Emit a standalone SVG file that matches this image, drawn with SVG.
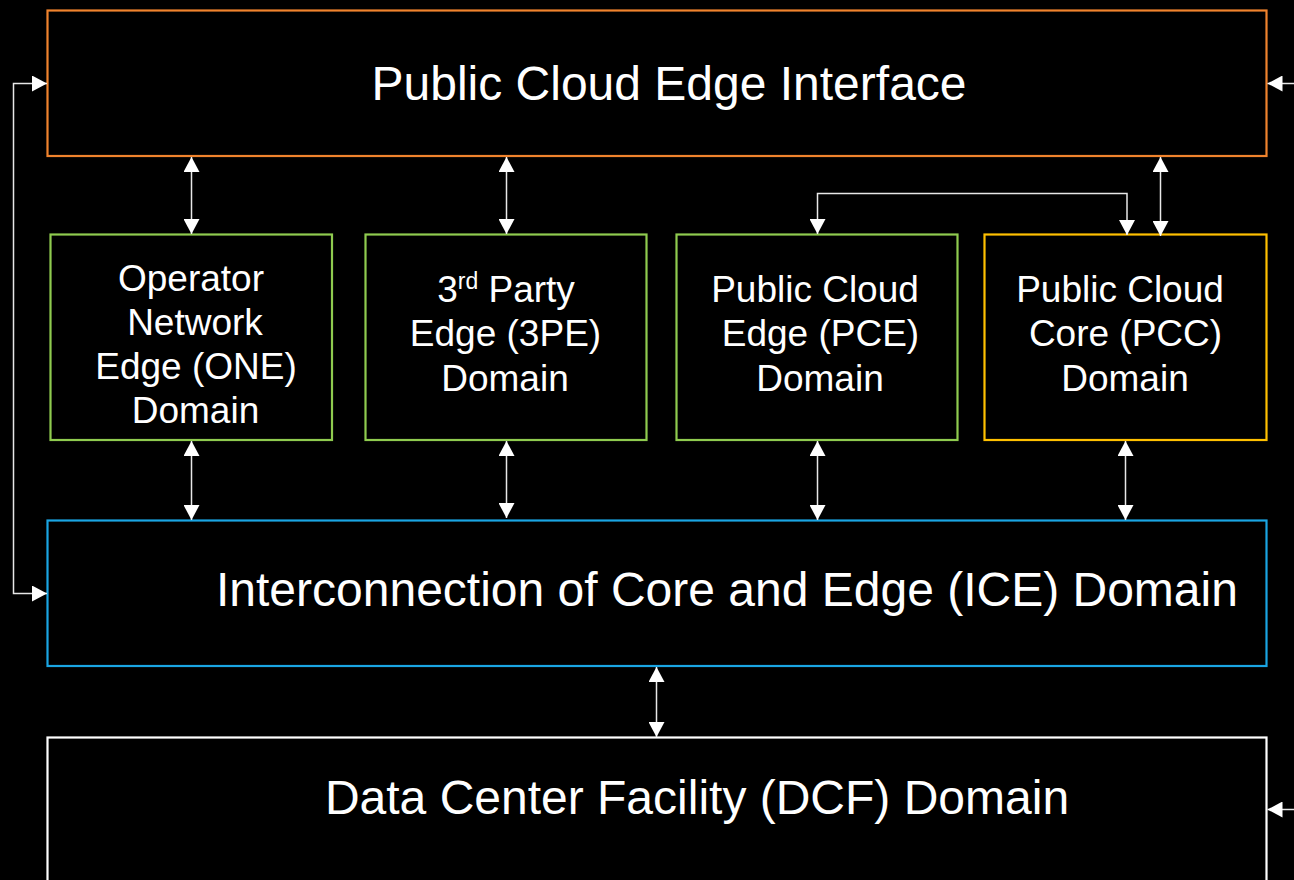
<svg xmlns="http://www.w3.org/2000/svg" width="1294" height="880" viewBox="0 0 1294 880">
<defs>
<style>
.bg{fill:#000}
.box{fill:#000;stroke-width:2.2}
.big{font-family:"Liberation Sans",Arial,sans-serif;font-size:48px;fill:#fff}
.sm{font-family:"Liberation Sans",Arial,sans-serif;font-size:37px;fill:#fff;text-anchor:middle}
.c{fill:none;stroke:#e8e8e8;stroke-width:1.5}
</style>
<marker id="ah" markerUnits="userSpaceOnUse" markerWidth="16" markerHeight="16" viewBox="0 0 16 16" refX="15" refY="8" orient="auto-start-reverse">
<path d="M0,0 L15,8 L0,16 Z" fill="#fff"/>
</marker>
</defs>
<rect class="bg" x="0" y="0" width="1294" height="880"/>

<g id="pcei">
<rect class="box" x="47.5" y="10.5" width="1219" height="145.5" stroke="#F0832D"/>
<text class="big" x="669" y="100" text-anchor="middle">Public Cloud Edge Interface</text>
</g>

<g id="one">
<rect class="box" x="50.5" y="234.5" width="281.5" height="205.5" stroke="#8FCB4F"/>
<text class="sm"><tspan x="191" y="291">Operator</tspan><tspan x="195" y="335">Network</tspan><tspan x="196" y="379">Edge (ONE)</tspan><tspan x="195.5" y="423">Domain</tspan></text>
</g>

<g id="tpe">
<rect class="box" x="365.5" y="234.5" width="281" height="205.5" stroke="#8FCB4F"/>
<text class="sm"><tspan x="506" y="302">3<tspan font-size="23" dy="-13">rd</tspan><tspan dy="13"> Party</tspan></tspan><tspan x="505.5" y="346">Edge (3PE)</tspan><tspan x="505" y="391">Domain</tspan></text>
</g>

<g id="pce">
<rect class="box" x="676.5" y="234.5" width="281" height="205.5" stroke="#8FCB4F"/>
<text class="sm"><tspan x="815" y="302">Public Cloud</tspan><tspan x="820.5" y="346">Edge (PCE)</tspan><tspan x="820" y="391">Domain</tspan></text>
</g>

<g id="pcc">
<rect class="box" x="984.5" y="234.5" width="282" height="205.5" stroke="#FFC000"/>
<text class="sm"><tspan x="1120" y="302">Public Cloud</tspan><tspan x="1125.5" y="346">Core (PCC)</tspan><tspan x="1125" y="391">Domain</tspan></text>
</g>

<g id="ice">
<rect class="box" x="47.5" y="520.5" width="1219" height="145.5" stroke="#1AA5E3"/>
<text class="big" x="216" y="606">Interconnection of Core and Edge (ICE) Domain</text>
</g>

<g id="dcf">
<rect class="box" x="47.5" y="737.5" width="1219" height="160" stroke="#fff"/>
<text class="big" x="697" y="814" text-anchor="middle">Data Center Facility (DCF) Domain</text>
</g>

<g id="connectors">
<path class="c" d="M47,83.5 H13.5 V593.5 H47" marker-start="url(#ah)" marker-end="url(#ah)"/>
<path class="c" d="M1294,83.5 H1267.5" marker-end="url(#ah)"/>
<path class="c" d="M1294,809.5 H1267.5" marker-end="url(#ah)"/>
<path class="c" d="M191.5,157 V234" marker-start="url(#ah)" marker-end="url(#ah)"/>
<path class="c" d="M506.5,157 V234" marker-start="url(#ah)" marker-end="url(#ah)"/>
<path class="c" d="M1160.5,157 V236" marker-start="url(#ah)" marker-end="url(#ah)"/>
<path class="c" d="M817.5,234 V193.5 H1127 V235" marker-start="url(#ah)" marker-end="url(#ah)"/>
<path class="c" d="M191.5,441 V520" marker-start="url(#ah)" marker-end="url(#ah)"/>
<path class="c" d="M506.5,441 V518" marker-start="url(#ah)" marker-end="url(#ah)"/>
<path class="c" d="M817.5,441 V520" marker-start="url(#ah)" marker-end="url(#ah)"/>
<path class="c" d="M1125.5,441 V520" marker-start="url(#ah)" marker-end="url(#ah)"/>
<path class="c" d="M656.5,667 V737" marker-start="url(#ah)" marker-end="url(#ah)"/>
</g>
</svg>
